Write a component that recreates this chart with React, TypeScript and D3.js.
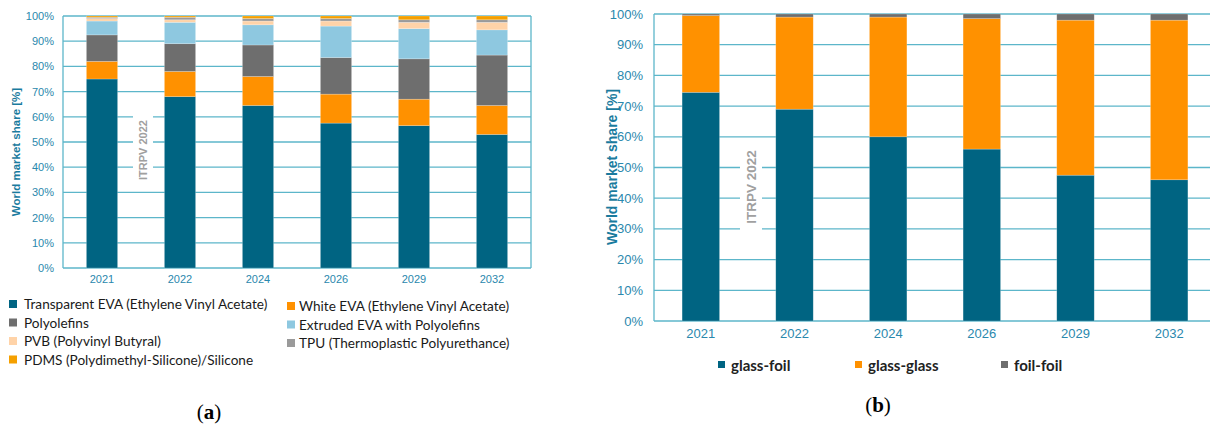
import React from "react";
import * as d3 from "d3";

// ---------- Data (a) ----------
const yearsA = ["2021", "2022", "2024", "2026", "2029", "2032"];
const seriesA = [
  "Transparent EVA (Ethylene Vinyl Acetate)",
  "White EVA (Ethylene Vinyl Acetate)",
  "Polyolefins",
  "Extruded EVA with Polyolefins",
  "PVB (Polyvinyl Butyral)",
  "TPU (Thermoplastic Polyurethance)",
  "PDMS (Polydimethyl-Silicone)/Silicone",
];
const transparentEVA = [75, 68, 64.5, 57.5, 56.5, 53];
const whiteEVA = [7, 10, 11.5, 11.5, 10.5, 11.5];
const polyolefins = [10.5, 11, 12.5, 14.5, 16, 20];
const extrudedEVA = [5.5, 8.5, 8, 12.5, 12, 10];
const pvb = [1, 1, 1.5, 2, 2.5, 3];
const tpu = [0.5, 1, 1, 1, 1, 1];
const pdms = [0.5, 0.5, 1, 1, 1.5, 1.5];
const colorsA = ["#006482", "#ff9100", "#6e6e6e", "#8ec8e0", "#ffd3a8", "#9a9a9a", "#f5a000"];

// ---------- Data (b) ----------
const yearsB = ["2021", "2022", "2024", "2026", "2029", "2032"];
const seriesB = ["glass-foil", "glass-glass", "foil-foil"];
const glassFoil = [74.5, 69, 60, 56, 47.5, 46];
const glassGlass = [25, 30, 39, 42.5, 50.5, 52];
const foilFoil = [0.5, 1, 1, 1.5, 2, 2];
const colorsB = ["#006482", "#ff9100", "#6e6e6e"];

const yTicks = [0, 10, 20, 30, 40, 50, 60, 70, 80, 90, 100];

const GRID = "#5cb6ca";
const AXIS_TXT = "#2a88ad";
const TITLE_TXT = "#1a7b9e";
const SANS = "'Liberation Sans', Arial, Helvetica, sans-serif";
const LEG = "Lato, 'Open Sans', sans-serif";

type ChartProps = {
  years: string[];
  values: number[][];
  colors: string[];
  x0: number;
  x1: number;
  y0: number;
  y1: number;
  tickFont: number;
  tickRight: number;
  xLabelY: number;
  titleX: number;
  titleY: number;
  titleFont: number;
  wmX: number;
  wmY: number;
  wmFont: number;
  wmBox: [number, number];
  border: boolean;
};

function StackedChart(p: ChartProps) {
  const x = d3.scaleBand<string>().domain(p.years).range([p.x0, p.x1]).paddingInner(0.6).paddingOuter(0.3);
  const y = d3.scaleLinear().domain([0, 100]).range([p.y0, p.y1]);
  const rows = p.years.map((yr, i) => {
    const o: any = { year: yr };
    p.values.forEach((s, k) => (o["s" + k] = s[i]));
    return o;
  });
  const keys = p.values.map((_, k) => "s" + k);
  const stack = d3.stack<any>().keys(keys)(rows);
  const wmH = p.wmBox[1];
  return (
    <g>
      {yTicks.map((t) => (
        <line key={t} x1={p.x0} x2={p.x1} y1={y(t)} y2={y(t)} stroke={GRID} strokeWidth={1.3} />
      ))}
      <line x1={p.x0} x2={p.x0} y1={y(0)} y2={y(100)} stroke={GRID} strokeWidth={1.3} />
      {p.border && <line x1={p.x1} x2={p.x1} y1={y(0)} y2={y(100)} stroke={GRID} strokeWidth={1.3} />}
      <rect x={p.wmX - p.wmBox[0] / 2} y={p.wmY - wmH / 2} width={p.wmBox[0]} height={wmH} fill="#fff" />
      <text
        transform={`translate(${p.wmX},${p.wmY}) rotate(-90)`}
        textAnchor="middle"
        dominantBaseline="central"
        fontFamily={SANS}
        fontWeight="bold"
        fontSize={p.wmFont}
        fill="#a0a0a0"
      >
        ITRPV 2022
      </text>
      {stack.map((layer, k) => (
        <g key={k}>
          {layer.map((d: any, i: number) => (
            <rect
              key={i}
              x={x(p.years[i])}
              width={x.bandwidth()}
              y={y(d[1])}
              height={Math.max(0, y(d[0]) - y(d[1]))}
              fill={p.colors[k]}
              stroke="#ffffff"
              strokeOpacity={0.35}
              strokeWidth={0.6}
            />
          ))}
        </g>
      ))}
      {yTicks.map((t) => (
        <text
          key={t}
          x={p.tickRight}
          y={y(t)}
          textAnchor="end"
          dominantBaseline="central"
          fontFamily={SANS}
          fontSize={p.tickFont}
          fill={AXIS_TXT}
        >
          {t}%
        </text>
      ))}
      {p.years.map((yr) => (
        <text
          key={yr}
          x={(x(yr) as number) + x.bandwidth() / 2}
          y={p.xLabelY}
          textAnchor="middle"
          dominantBaseline="central"
          fontFamily={SANS}
          fontSize={p.tickFont}
          fill={AXIS_TXT}
        >
          {yr}
        </text>
      ))}
      <text
        transform={`translate(${p.titleX},${p.titleY}) rotate(-90)`}
        textAnchor="middle"
        dominantBaseline="central"
        fontFamily={SANS}
        fontWeight="bold"
        fontSize={p.titleFont}
        fill={TITLE_TXT}
      >
        World market share [%]
      </text>
    </g>
  );
}

const valuesA = [transparentEVA, whiteEVA, polyolefins, extrudedEVA, pvb, tpu, pdms];
const valuesB = [glassFoil, glassGlass, foilFoil];

// legend layout for (a): [seriesIndex, column, row]
const legendA: [number, number, number][] = [
  [0, 0, 0],
  [1, 1, 0],
  [2, 0, 1],
  [3, 1, 1],
  [4, 0, 2],
  [5, 1, 2],
  [6, 0, 3],
];

export default function App() {
  return (
    <svg width={1210} height={426} style={{ position: "absolute", left: 0, top: 0, background: "#fff" }}>
      <rect width={1210} height={426} fill="#fff" />
      <StackedChart
        years={yearsA}
        values={valuesA}
        colors={colorsA}
        x0={63}
        x1={531}
        y0={268}
        y1={16}
        tickFont={11}
        tickRight={54}
        xLabelY={279}
        titleX={16}
        titleY={152}
        titleFont={11.5}
        wmX={143}
        wmY={150}
        wmFont={11}
        wmBox={[20, 70]}
        border={true}
      />
      <StackedChart
        years={yearsB}
        values={valuesB}
        colors={colorsB}
        x0={654}
        x1={1216}
        y0={321}
        y1={14}
        tickFont={13}
        tickRight={643}
        xLabelY={333}
        titleX={612}
        titleY={167}
        titleFont={14}
        wmX={751}
        wmY={187}
        wmFont={13.5}
        wmBox={[22, 86]}
        border={false}
      />
      {legendA.map(([s, col, row]) => {
        const sx = col === 0 ? 9 : 287;
        const tx = col === 0 ? 24 : 299;
        const cy = (col === 0 ? 304 : 306) + row * 18.5;
        return (
          <g key={s}>
            <rect x={sx} y={cy - 4} width={8} height={8} fill={colorsA[s]} />
            <text x={tx} y={cy} dominantBaseline="central" fontFamily={LEG} fontSize={13.6} fill="#1a1a1a">
              {seriesA[s]}
            </text>
          </g>
        );
      })}
      {seriesB.map((s, i) => {
        const sx = [718, 855, 1001][i];
        return (
          <g key={s}>
            <rect x={sx} y={361} width={7} height={7} fill={colorsB[i]} />
            <text
              x={sx + 13}
              y={365}
              dominantBaseline="central"
              fontFamily={LEG}
              fontWeight="bold"
              fontSize={15}
              fill="#222"
            >
              {s}
            </text>
          </g>
        );
      })}
      <text x={209} y={412} textAnchor="middle" dominantBaseline="central" fontFamily="'Liberation Serif', 'Times New Roman', serif" fontSize={21} fill="#000">
        (<tspan fontWeight="bold">a</tspan>)
      </text>
      <text x={878} y={405} textAnchor="middle" dominantBaseline="central" fontFamily="'Liberation Serif', 'Times New Roman', serif" fontSize={21} fill="#000">
        (<tspan fontWeight="bold">b</tspan>)
      </text>
    </svg>
  );
}
